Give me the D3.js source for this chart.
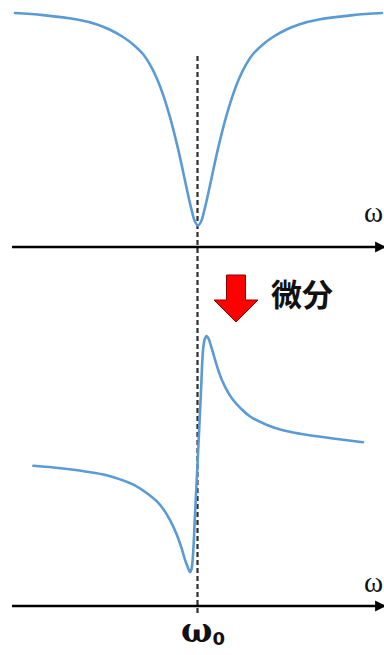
<!DOCTYPE html>
<html>
<head>
<meta charset="utf-8">
<script src="https://cdn.jsdelivr.net/npm/d3@7/dist/d3.min.js"></script>
<style>
  html, body { margin: 0; padding: 0; background: #fff; }
  svg { display: block; }
</style>
</head>
<body>
<script>
// Absorption line (top) and its derivative signal (bottom), frequency offset from ω0
const omegaTop = [-9.84, -8.33, -6.5, -5.43, -4.73, -4.03, -3.49, -2.96, -2.58, -2.2, -1.88, -1.51, -1.13, -0.86, -0.59, -0.32, -0.16, 0,
                  0.16, 0.32, 0.59, 0.86, 1.13, 1.51, 1.88, 2.2, 2.58, 2.96, 3.49, 4.03, 4.73, 5.43, 6.5, 8.33, 9.89];
const absorption = [1.00, 0.991, 0.972, 0.951, 0.928, 0.897, 0.865, 0.824, 0.778, 0.717, 0.650, 0.554, 0.436, 0.341, 0.240, 0.147, 0.104, 0.088,
                    0.104, 0.147, 0.240, 0.341, 0.436, 0.554, 0.650, 0.717, 0.778, 0.824, 0.865, 0.897, 0.928, 0.951, 0.972, 0.991, 1.00];

const omegaBottom = [-8.85, -7.78, -5.99, -4.91, -4.19, -3.47, -2.76, -2.22, -1.86, -1.51, -1.15, -0.88, -0.70, -0.55, -0.43,
                     -0.35, -0.27, -0.16, 0, 0.16, 0.27, 0.35, 0.46, 0.56, 0.70, 0.86, 1.02, 1.29, 1.61, 1.88, 2.31, 2.80,
                     3.71, 4.57, 5.48, 7.26, 8.87];
const derivative = [-0.10, -0.115, -0.15, -0.18, -0.215, -0.26, -0.33, -0.40, -0.468, -0.558, -0.68, -0.80, -0.895, -0.96, -1.00,
                    -0.975, -0.86, -0.51, 0, 0.53, 0.88, 0.966, 1.00, 0.98, 0.915, 0.83, 0.745, 0.625, 0.525, 0.46, 0.385, 0.318,
                    0.246, 0.201, 0.172, 0.132, 0.10];

const axisLabel = "ω";
const centerLabel = "ω";
const centerSub = "0";
const stepLabel = "微分";

const W = 384, H = 655;
const blue = "#5b9bd5";

const svg = d3.select("body").append("svg")
  .attr("width", W).attr("height", H)
  .attr("viewBox", `0 0 ${W} ${H}`);

const defs = svg.append("defs");
defs.append("marker")
  .attr("id", "axisHead")
  .attr("viewBox", "0 0 10 10")
  .attr("refX", 9).attr("refY", 5)
  .attr("markerUnits", "userSpaceOnUse")
  .attr("markerWidth", 11).attr("markerHeight", 13)
  .attr("orient", "auto")
  .append("path").attr("d", "M0,0 L10,5 L0,10 Z").attr("fill", "#000");

// Shared frequency scale
const x = d3.scaleLinear().domain([-10, 10]).range([12, 384]);

// Panel scales
const yTop = d3.scaleLinear().domain([0, 1]).range([246, 13]);
const yBot = d3.scaleLinear().domain([-1, 1]).range([572, 336]);

const topAxisY = 247, botAxisY = 606;

// Resonance marker at ω0
svg.append("line")
  .attr("x1", x(0) - 0.5).attr("x2", x(0) - 0.5)
  .attr("y1", 56).attr("y2", 613)
  .attr("stroke", "#2e2e2e")
  .attr("stroke-width", 2.2)
  .attr("stroke-dasharray", "5,3");

// Frequency axes
[topAxisY, botAxisY].forEach(yy => {
  svg.append("line")
    .attr("x1", x.range()[0]).attr("x2", 385)
    .attr("y1", yy).attr("y2", yy)
    .attr("stroke", "#000").attr("stroke-width", 2.5)
    .attr("marker-end", "url(#axisHead)");
});

// Axis names
[222, 592].forEach(by => {
  svg.append("text").attr("x", 364).attr("y", by)
    .attr("font-family", "Liberation Serif, DejaVu Serif, serif")
    .attr("font-size", 29).attr("fill", "#111").text(axisLabel);
});

// Curves
const lineTop = d3.line()
  .x((d, i) => x(omegaTop[i]))
  .y(d => yTop(d))
  .curve(d3.curveCatmullRom.alpha(0.5));
const lineBot = d3.line()
  .x((d, i) => x(omegaBottom[i]))
  .y(d => yBot(d))
  .curve(d3.curveCatmullRom.alpha(0.5));

svg.append("path").datum(absorption)
  .attr("d", lineTop)
  .attr("fill", "none").attr("stroke", blue)
  .attr("stroke-width", 2.6).attr("stroke-linejoin", "round").attr("stroke-linecap", "round");

svg.append("path").datum(derivative)
  .attr("d", lineBot)
  .attr("fill", "none").attr("stroke", blue)
  .attr("stroke-width", 2.6).attr("stroke-linejoin", "round").attr("stroke-linecap", "round");

// Downward arrow for the differentiation step
const ax = 236, aTop = 275, aNeck = 300, aTip = 322;
svg.append("path")
  .attr("d", `M${ax - 9.5},${aTop} L${ax + 9.5},${aTop} L${ax + 9.5},${aNeck} L${ax + 22},${aNeck}
              L${ax},${aTip} L${ax - 22},${aNeck} L${ax - 9.5},${aNeck} Z`)
  .attr("fill", "#ff0000").attr("stroke", "#8a0000").attr("stroke-width", 1);

svg.append("text").attr("x", 271).attr("y", 306)
  .attr("font-family", "Noto Sans CJK JP, Noto Sans CJK SC, sans-serif")
  .attr("font-size", 31).attr("font-weight", 700).attr("fill", "#111")
  .text(stepLabel);

// ω0 label below the lower axis
const c = svg.append("text").attr("x", 203).attr("y", 642)
  .attr("text-anchor", "middle")
  .attr("font-family", "DejaVu Serif, Liberation Serif, serif")
  .attr("font-weight", 700).attr("font-size", 33).attr("fill", "#111");
c.append("tspan").text(centerLabel);
c.append("tspan").attr("dy", 3).attr("font-size", 18)
  .attr("font-family", "DejaVu Sans, sans-serif").text(centerSub);
</script>
</body>
</html>
